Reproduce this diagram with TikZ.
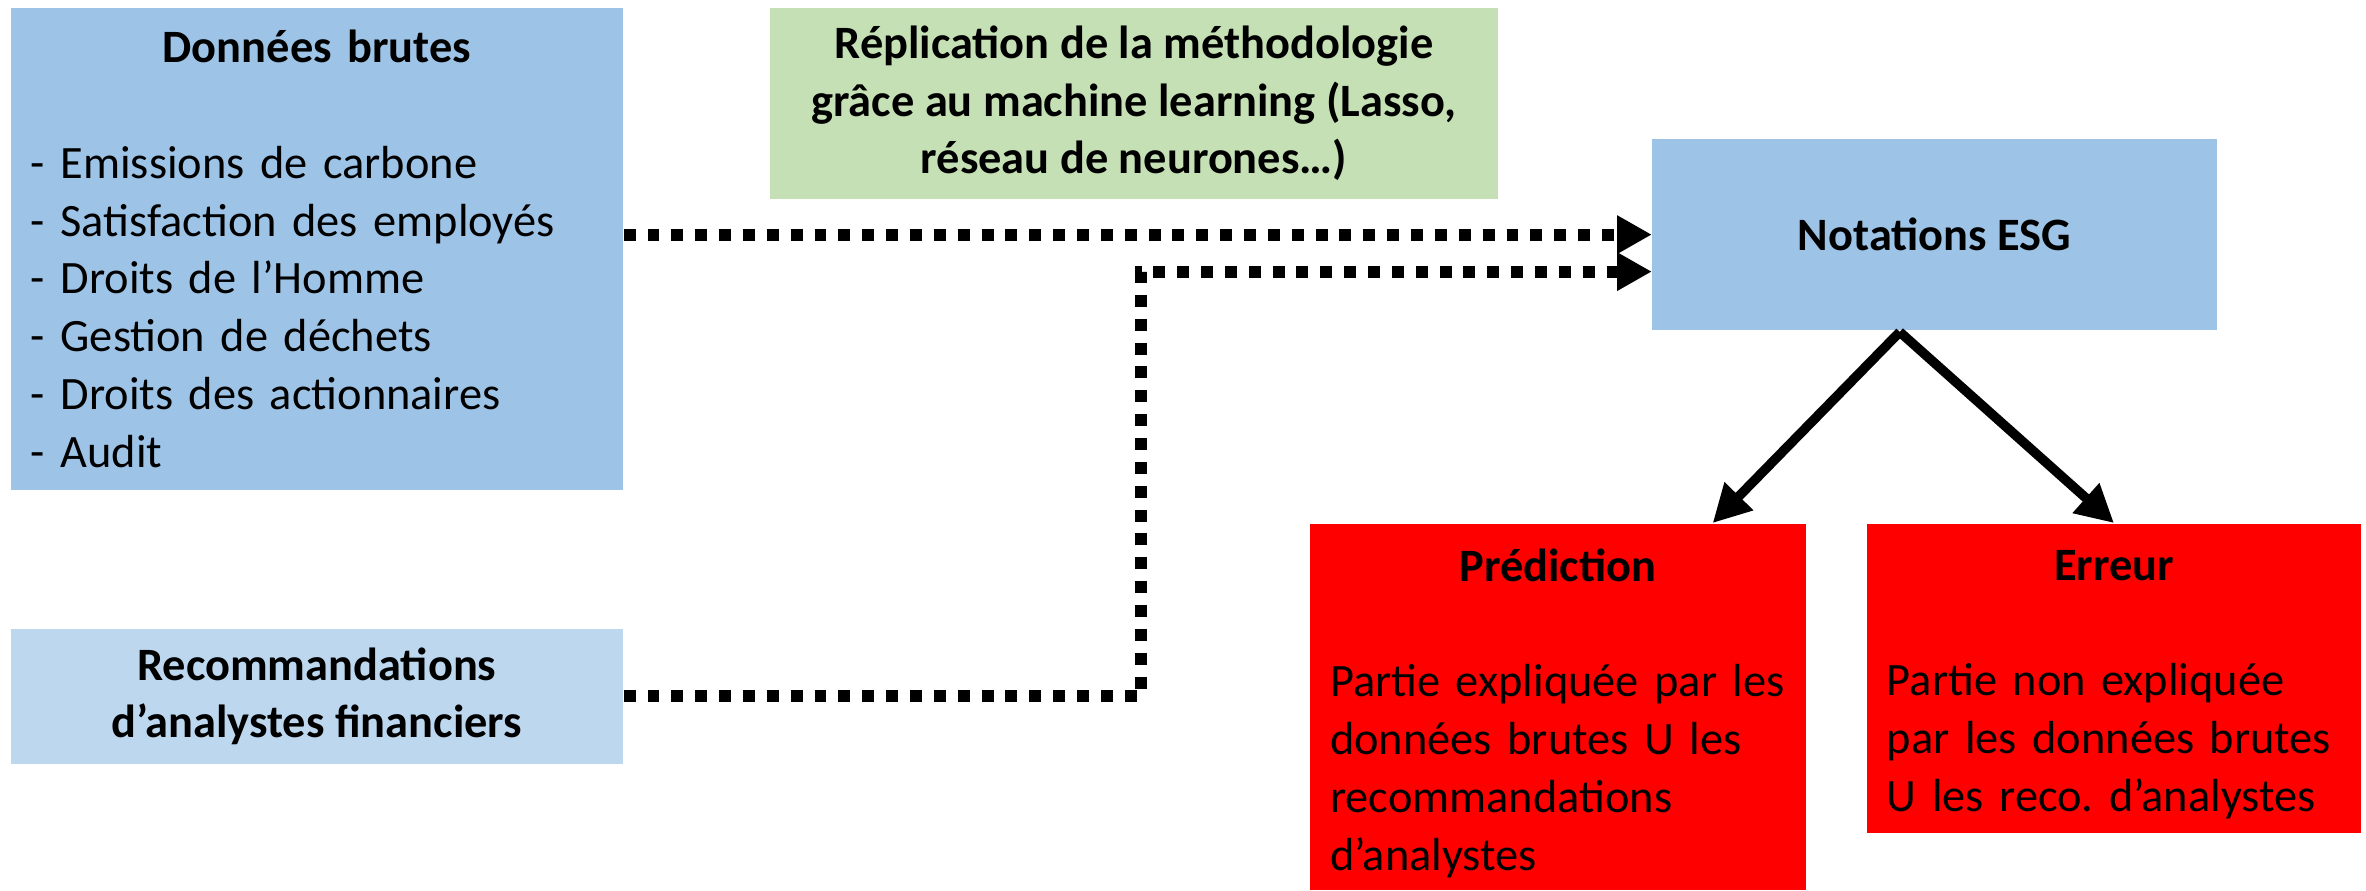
\documentclass[tikz,border=0pt]{standalone}
\usepackage{fontspec}
\setmainfont{Carlito}
\usetikzlibrary{arrows.meta,positioning}
\frenchspacing

\definecolor{bleu}{HTML}{9DC3E6}
\definecolor{bleuclair}{HTML}{BDD7EE}
\definecolor{vert}{HTML}{C5E0B4}
\definecolor{rouge}{HTML}{FF0000}

\tikzset{
  bloc/.style={inner xsep=0.27cm, inner ysep=0pt,
    font=\fontsize{17.5}{21.8}\selectfont},
  titre/.style={bloc, align=center, font=\fontsize{17.5}{21.8}\selectfont\bfseries},
  pointille/.style={line width=4.5pt, dash pattern=on 4.5pt off 4.5pt,
    -{Triangle[length=0.46cm, width=0.48cm]}},
  fleche/.style={line width=3.6pt, -{Triangle[length=0.5cm, width=0.5cm]}}
}

\begin{document}
\begin{tikzpicture}[x=0.02cm, y=-0.02cm]
  \useasboundingbox (0,0) rectangle (1568,590.4);

  % blocs
  \node[bloc, fill=bleu, minimum width=8.12cm, minimum height=6.4cm,
        text width=7.58cm, align=left] (donnees) at (210,165)
    {\hfill\textbf{Données brutes}\hfill\null\\[21.8pt]
     - Emissions de carbone\\
     - Satisfaction des employés\\
     - Droits de l’Homme\\
     - Gestion de déchets\\
     - Droits des actionnaires\\
     - Audit};
  \node[titre, fill=vert, minimum width=9.66cm, minimum height=2.54cm] (ml) at (751.5,68.5)
    {Réplication de la méthodologie\\grâce au machine learning (Lasso,\\réseau de neurones…)};
  \node[titre, fill=bleu, minimum width=7.48cm, minimum height=2.54cm] (esg) at (1282,155.5)
    {Notations ESG};
  \node[titre, fill=bleuclair, minimum width=8.12cm, minimum height=1.78cm] (reco) at (210,461.5)
    {Recommandations\\d’analystes financiers};
  \node[bloc, fill=rouge, minimum width=6.58cm, minimum height=4.86cm,
        text width=6.04cm, align=left] (pred) at (1032.5,468.5)
    {\rule{0pt}{17pt}\hfill\textbf{Prédiction}\hfill\null\\[21.8pt]
     Partie expliquée par les\\
     données brutes U les\\
     recommandations\\
     d’analystes};
  \node[bloc, fill=rouge, minimum width=6.56cm, minimum height=4.1cm,
        text width=6.02cm, align=left] (erreur) at (1401,449.5)
    {\rule{0pt}{16pt}\hfill\textbf{Erreur}\hfill\null\\[21.8pt]
     Partie non expliquée\\
     par les données brutes\\
     U les reco. d’analystes};

  % connecteurs
  \coordinate (coude) at (756,180);
  \coordinate (split) at (1259,220);
  \draw[pointille] (esg.west -| donnees.east) -- (esg.west);
  \draw[pointille] (reco.east) -| (coude) -- (coude -| esg.west);
  \draw[fleche] (split) -- ([xshift=2.05cm]pred.north);
  \draw[fleche] (split) -- (erreur.north);
\end{tikzpicture}
\end{document}
